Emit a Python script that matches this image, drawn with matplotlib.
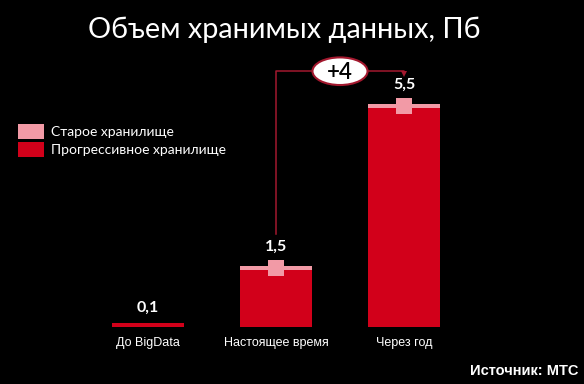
import matplotlib
matplotlib.use("Agg")
import matplotlib.pyplot as plt
from matplotlib.patches import Ellipse, Patch

categories = ["До BigData", "Настоящее время", "Через год"]
totals = [0.1, 1.5, 5.5]
old_part = [0.0, 0.1, 0.1]
value_labels = ["0,1", "1,5", "5,5"]
diff_label = "+4"
title = "Объем хранимых данных, Пб"
legend_labels = ["Старое хранилище", "Прогрессивное хранилище"]
source = "Источник: МТС"

RED = "#D2001A"
PINK = "#F29AA6"
LINE = "#A3182E"

W, H = 584, 384
fig = plt.figure(figsize=(W / 100, H / 100), dpi=100, facecolor="black")
ax = fig.add_axes([20 / W, 57 / H, 512 / W, (40.6 * 7) / H])
ax.set_facecolor("black")
ax.set_xlim(-1, 3)
ax.set_ylim(0, 7)
ax.axis("off")

x = list(range(len(categories)))
new_part = [t - o for t, o in zip(totals, old_part)]
bw = 0.555
ax.bar(x, new_part, width=bw, color=RED, linewidth=0)
ax.bar(x, old_part, bottom=new_part, width=bw, color=PINK, linewidth=0)
for xi, t, o in zip(x, totals, old_part):
    if o > 0:
        ax.plot([xi], [t - 0.05], marker="s", markersize=11.5, color=PINK,
                markeredgewidth=0, linestyle="none")

for xi, t, lab in zip(x, totals, value_labels):
    off = 0.3 if t > 0.5 else 0.2
    ax.text(xi, t + off, lab, ha="center", va="bottom", color="white",
            fontsize=11.5, fontweight="bold", family="Lato")

for xi, c in zip(x, categories):
    ax.text(xi, -0.25, c, ha="center", va="top", color="white",
            fontsize=9, family="Liberation Sans")

ytop = 6.3
ax.plot([x[1], x[1], x[2], x[2]], [totals[1] + 0.78, ytop, ytop, totals[2] + 0.75],
        color=LINE, linewidth=1.1)
ax.plot([x[2]], [totals[2] + 0.72], marker="v", markersize=5, color=LINE,
        markeredgewidth=0)
cx = (x[1] + x[2]) / 2
ell = Ellipse((cx, ytop), width=0.43, height=0.68, facecolor="white",
              edgecolor=LINE, linewidth=1.5, zorder=5)
ax.add_patch(ell)
ax.text(cx, ytop - 0.02, diff_label, ha="center", va="center", color="black",
        fontsize=16, fontweight="semibold", family="Lato", zorder=6)

fig.text(284 / W, 1 - 30 / H, title, ha="center", va="center", color="white",
         fontsize=20.8, family="Lato")

handles = [Patch(facecolor=PINK, edgecolor="none"), Patch(facecolor=RED, edgecolor="none")]
fig.legend(handles, legend_labels, loc="upper left",
           bbox_to_anchor=(5 / W, 1 - 111 / H), frameon=False,
           prop={"family": "Lato", "size": 10}, labelcolor="white",
           handlelength=1.9, handleheight=1.3, handletextpad=0.5,
           labelspacing=0.25)

fig.text(578 / W, 1 - 371 / H, source, ha="right", va="center", color="white",
         fontsize=10.5, fontweight="bold", family="Liberation Sans")

fig.savefig("out.png", dpi=100, facecolor="black")
